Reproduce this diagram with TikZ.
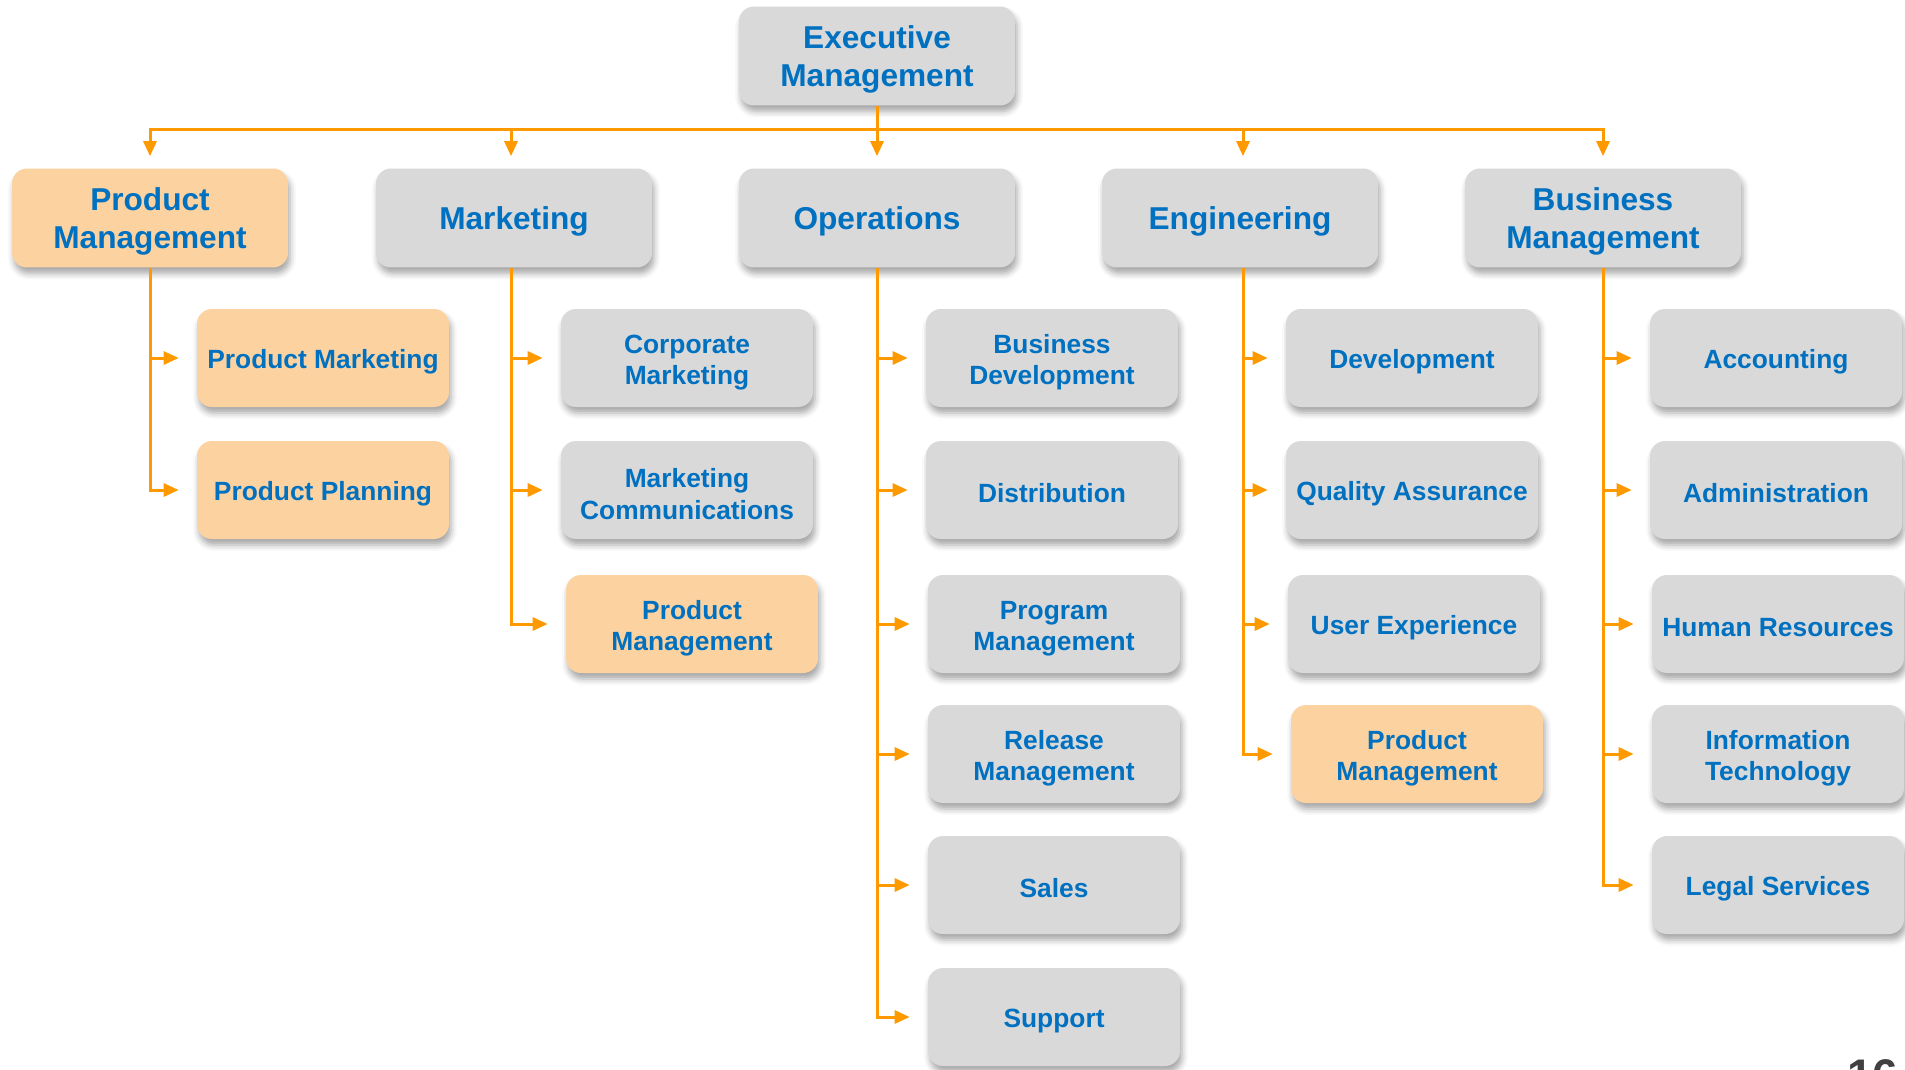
\documentclass[tikz,border=0pt]{standalone}
\usepackage{fontspec}
\setmainfont{Liberation Sans}
\usetikzlibrary{arrows.meta,shadows.blur}
\definecolor{boxgray}{RGB}{217,217,217}
\definecolor{peach}{RGB}{252,211,160}
\definecolor{txtblue}{RGB}{0,112,192}
\definecolor{lineorange}{RGB}{255,153,0}
\begin{document}
\begin{tikzpicture}[x=0.02cm,y=-0.02cm]
\tikzstyle{every node}=[align=center,text=txtblue]
\tikzstyle{card}=[fill=boxgray,rounded corners=0.3cm,blur shadow={shadow xshift=0.04cm,shadow yshift=-0.12cm,shadow blur radius=0.12cm,shadow opacity=35}]
\tikzstyle{head}=[card,minimum width=5.52cm,minimum height=1.98cm,font=\fontsize{18}{21.6}\selectfont\bfseries,execute at begin node={\rule{0pt}{17.1pt}}]
\tikzstyle{unit}=[card,minimum width=5.04cm,minimum height=1.96cm,font=\fontsize{15}{18}\selectfont\bfseries,execute at begin node={\rule{0pt}{14.9pt}}]
\tikzstyle{htwo}=[text height=39pt]
\tikzstyle{utwo}=[text height=33.5pt]
\tikzstyle{pm}=[fill=peach]
\tikzstyle{wire}=[draw=lineorange,line width=0.06cm]
\tikzstyle{link}=[wire,-{Triangle[length=0.3cm,width=0.26cm]},shorten >=0.36cm]
\useasboundingbox (0,0) rectangle (1905,1069);
% top levels
\node[head,htwo](l0) at (877,56) {Executive\\Management};
\node[head,htwo,pm](l10) at (150,218) {Product\\Management};
\node[head](l11) at (514,218) {Marketing};
\node[head](l12) at (877,218) {Operations};
\node[head](l13) at (1240,218) {Engineering};
\node[head,htwo](l14) at (1603,218) {Business\\Management};
% second level
\node[unit,pm](l20) at (323,358) {Product Marketing};
\node[unit,pm](l21) at (323,490) {Product Planning};
\node[unit,utwo](l22) at (687,358) {Corporate\\Marketing};
\node[unit,utwo](l23) at (687,490) {Marketing\\Communications};
\node[unit,utwo,pm](l24) at (692,624) {Product\\Management};
\node[unit,utwo](l25) at (1052,358) {Business\\Development};
\node[unit](l26) at (1052,490) {Distribution};
\node[unit,utwo](l27) at (1054,624) {Program\\Management};
\node[unit,utwo](l28) at (1054,754) {Release\\Management};
\node[unit](l29) at (1054,885) {Sales};
\node[unit](l30) at (1054,1017) {Support};
\node[unit](l31) at (1412,358) {Development};
\node[unit](l32) at (1412,490) {Quality Assurance};
\node[unit](l33) at (1414,624) {User Experience};
\node[unit,utwo,pm](l34) at (1417,754) {Product\\Management};
\node[unit](l35) at (1776,358) {Accounting};
\node[unit](l36) at (1776,490) {Administration};
\node[unit](l37) at (1778,624) {Human Resources};
\node[unit,utwo](l38) at (1778,754) {Information\\Technology};
\node[unit](l39) at (1778,885) {Legal Services};
\node[anchor=north west,inner sep=0pt,text=black!75,font=\fontsize{26}{26}\selectfont\bfseries](pg) at (1847,1059) {16};
% connectors
\coordinate (bus) at (877,129);
\draw[wire] (l0.south) -- (bus);
\draw[link,shorten >=0.24cm] (bus) -| (l10);
\draw[link,shorten >=0.24cm] (bus) -| ([xshift=-0.06cm]l11.north);
\draw[link,shorten >=0.24cm] (bus) -| (l12);
\draw[link,shorten >=0.24cm] (bus) -| ([xshift=0.06cm]l13.north);
\draw[link,shorten >=0.24cm] (bus) -| (l14);
\draw[link] (l10.south) |- (l20);
\draw[link] (l10.south) |- (l21);
\draw[link] ([xshift=-0.06cm]l11.south) |- (l22);
\draw[link] ([xshift=-0.06cm]l11.south) |- (l23);
\draw[link] ([xshift=-0.06cm]l11.south) |- (l24);
\draw[link] (l12.south) |- (l25);
\draw[link] (l12.south) |- (l26);
\draw[link] (l12.south) |- (l27);
\draw[link] (l12.south) |- (l28);
\draw[link] (l12.south) |- (l29);
\draw[link] (l12.south) |- (l30);
\draw[link] ([xshift=0.06cm]l13.south) |- (l31);
\draw[link] ([xshift=0.06cm]l13.south) |- (l32);
\draw[link] ([xshift=0.06cm]l13.south) |- (l33);
\draw[link] ([xshift=0.06cm]l13.south) |- (l34);
\draw[link] (l14.south) |- (l35);
\draw[link] (l14.south) |- (l36);
\draw[link] (l14.south) |- (l37);
\draw[link] (l14.south) |- (l38);
\draw[link] (l14.south) |- (l39);
\end{tikzpicture}
\end{document}
